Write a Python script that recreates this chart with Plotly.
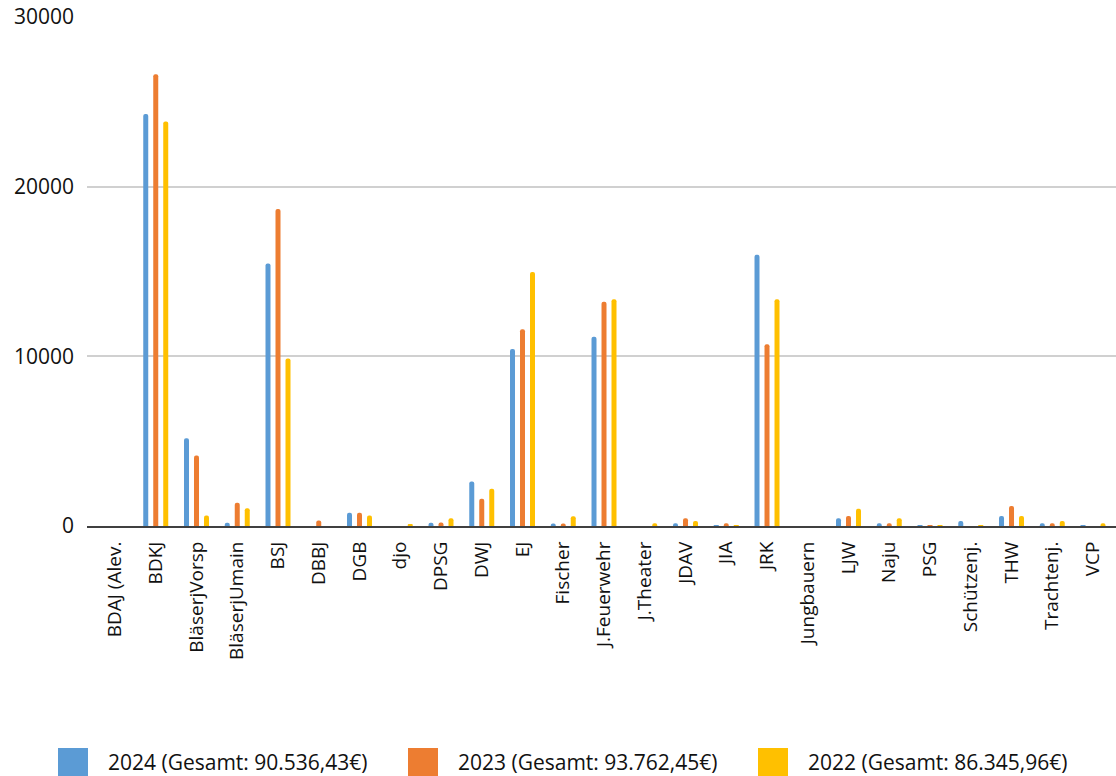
import plotly.graph_objects as go

categories = ["BDAJ (Alev.", "BDKJ", "BläserjVorsp", "BläserjUmain", "BSJ", "DBBJ", "DGB", "djo",
              "DPSG", "DWJ", "EJ", "Fischer", "J.Feuerwehr", "J.Theater", "JDAV", "JIA", "JRK",
              "Jungbauern", "LJW", "Naju", "PSG", "Schützenj.", "THW", "Trachtenj.", "VCP"]

v2024 = [0, 24290, 5170, 190, 15470, 0, 780, 0, 190, 2630, 10430, 150, 11150, 0, 160, 50, 15990,
         0, 450, 160, 40, 300, 590, 160, 40]
v2023 = [0, 26620, 4150, 1370, 18690, 320, 780, 0, 200, 1610, 11590, 150, 13220, 0, 450, 160, 10710,
         0, 590, 160, 40, 0, 1180, 160, 0]
v2022 = [0, 23840, 620, 1050, 9870, 0, 620, 70, 460, 2200, 14970, 580, 13360, 160, 300, 30, 13360,
         0, 1020, 450, 40, 30, 590, 300, 160]

series_names = ["2024 (Gesamt: 90.536,43€)", "2023 (Gesamt: 93.762,45€)", "2022 (Gesamt: 86.345,96€)"]
series_values = [v2024, v2023, v2022]
colors = ["#5B9BD5", "#ED7D31", "#FFC000"]

y_ticks = [0, 10000, 20000, 30000]

W, H = 1116, 776
ML, MR, MT, MB = 87, 0, 17, 250
plot_w = W - ML - MR
plot_h = H - MT - MB

fig = go.Figure()
for name, vals, col in zip(series_names, series_values, colors):
    fig.add_trace(go.Bar(x=list(range(len(categories))), y=vals, name=name,
                         marker=dict(color=col, line=dict(width=0)), showlegend=False))

font_family = "Open Sans, DejaVu Sans, sans-serif"

fig.update_layout(
    width=W, height=H,
    margin=dict(l=ML, r=MR, t=MT, b=MB),
    paper_bgcolor="white", plot_bgcolor="white",
    barmode="group", bargap=0.264, bargroupgap=0.5, barcornerradius=2.5,
    font=dict(family=font_family, color="#111111"),
    xaxis=dict(
        tickmode="array", tickvals=list(range(len(categories))), ticktext=categories,
        tickangle=-90, range=[-0.687, 24.564], showgrid=False, zeroline=False,
        showline=True, linecolor="#404040", linewidth=2,
        tickfont=dict(size=19, family=font_family, color="#111111"),
        ticks="", ticklabelstandoff=6,
    ),
    yaxis=dict(
        range=[0, 30000], tickvals=y_ticks, ticktext=[str(t) for t in y_ticks],
        showgrid=True, gridcolor="#D0D0D0", gridwidth=2, zeroline=False,
        tickfont=dict(size=21, family=font_family, color="#111111"),
        ticks="", ticklabelstandoff=12,
    ),
)

def px_x(px):
    return (px - ML) / plot_w

def px_y(py):
    return 1 - (py - MT) / plot_h

legend_sq_left = [58, 408, 758]
for name, col, lx in zip(series_names, colors, legend_sq_left):
    fig.add_shape(type="rect", xref="paper", yref="paper",
                  x0=px_x(lx), x1=px_x(lx + 30), y0=px_y(748), y1=px_y(780),
                  fillcolor=col, line=dict(width=0), layer="above")
    fig.add_annotation(text=name, xref="paper", yref="paper",
                       x=px_x(lx + 48), y=px_y(762), xanchor="left", yanchor="middle",
                       showarrow=False, font=dict(size=21, family=font_family, color="#111111"))

fig.write_html("out.html")
